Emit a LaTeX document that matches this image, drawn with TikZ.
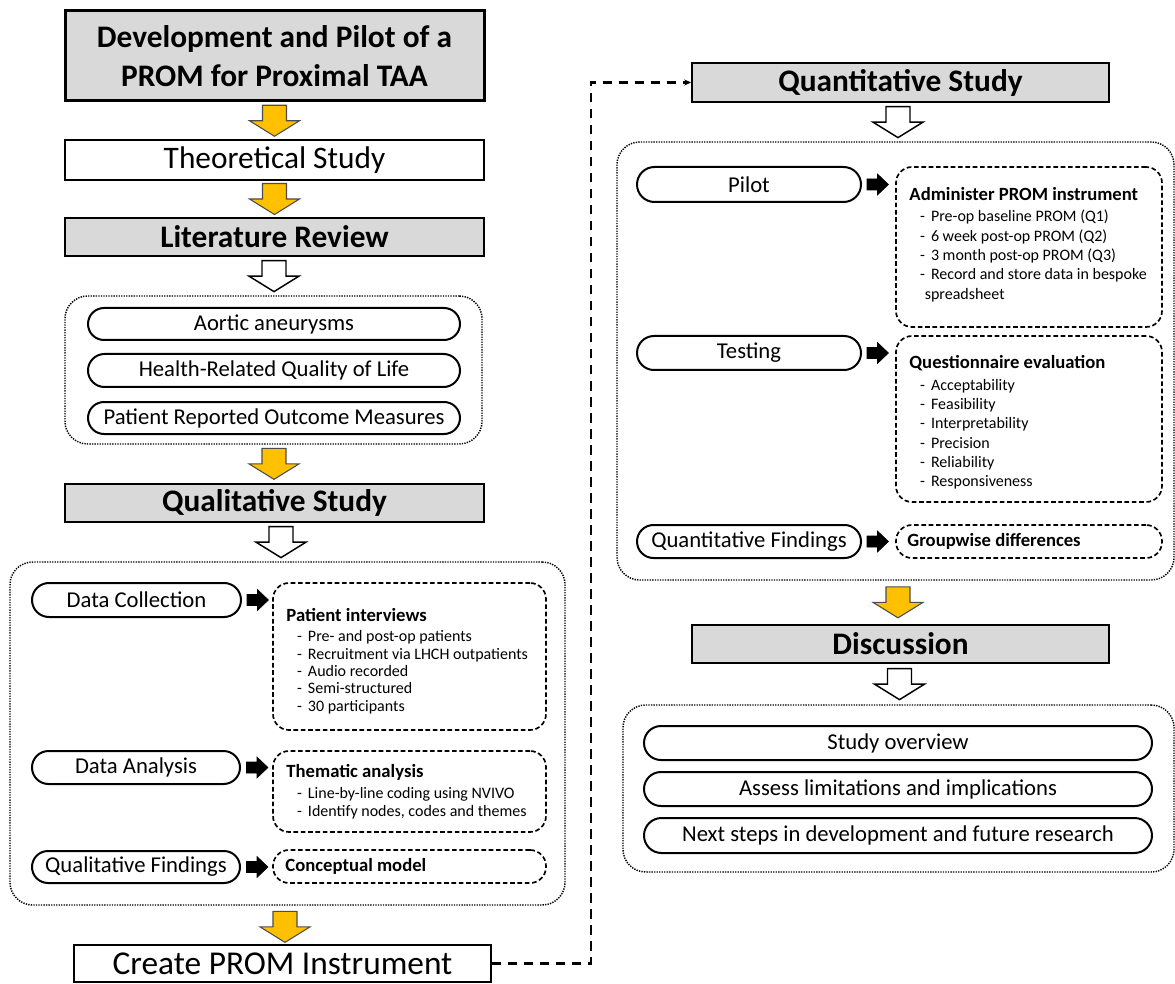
\documentclass[tikz,border=0pt]{standalone}
\usepackage{fontspec}
\setmainfont{Carlito}
\usetikzlibrary{shapes.misc,arrows.meta,calc}
\definecolor{panelgray}{HTML}{D9D9D9}
\definecolor{amber}{HTML}{FFC000}
% header line and bullet line of the detail boxes
\newcommand{\hd}[1]{{\fontsize{14}{16}\selectfont\bfseries #1}}
\newcommand{\li}[1]{\hspace*{8pt}-\hspace*{4.5pt}#1}

\tikzset{
  % place a node by its left/top/right/bottom edges (in px units)
  frame at/.style args={#1,#2,#3,#4}{at={({(#1+#3)/2},{(#2+#4)/2})},
     minimum width={0.75pt*(#3-#1)}, minimum height={0.75pt*(#4-#2)}},
  headbox/.style={draw, fill=panelgray, line width=1.5pt, inner sep=0pt,
     align=center, font=\fontsize{23.5}{29}\selectfont\bfseries},
  titlebox/.style={headbox, line width=2.25pt},
  plainbox/.style={draw, fill=white, line width=1.5pt, inner sep=0pt,
     font=\fontsize{23.5}{29}\selectfont},
  pillbox/.style={draw, rounded rectangle, line width=1.5pt, inner sep=0pt,
     font=\fontsize{17}{20}\selectfont},
  detailbox/.style={draw, rounded corners=12pt, line width=1.25pt,
     dash pattern=on 3.5pt off 2pt, inner sep=0pt},
  groupbox/.style={draw, rounded corners=17pt, line width=1.1pt,
     dash pattern=on 1pt off 0.9pt, inner sep=0pt},
  notetext/.style={inner sep=0pt, anchor=west},
  flowlink/.style={line width=1.8pt, dash pattern=on 7pt off 5pt,
     -{Stealth[length=5pt,width=4.5pt]}},
  gold arrow/.style={fill=amber, draw=black!70, line width=0.8pt},
  hollow arrow/.style={fill=white, draw=black, line width=1.1pt},
  pointer/.style={fill=black, draw=black, line width=0.4pt},
  blockdown/.pic={\path[#1] (-12,-15.5) -- (12,-15.5) -- (12,0) -- (25,0)
     -- (0,15.5) -- (-25,0) -- (-12,0) -- cycle;},
  blockright/.pic={\path[#1] (-10.5,-5.5) -- (0,-5.5) -- (0,-10.5) -- (11,0)
     -- (0,10.5) -- (0,5.5) -- (-10.5,5.5) -- cycle;},
}

\begin{document}
\begin{tikzpicture}[x=0.75pt, y=-0.75pt]
\useasboundingbox (0,0) rectangle (1175,984);

% ---------------- left column ----------------
\node[titlebox, frame at={65,11,484,101}] (title)
  {Development and Pilot of a\\PROM for Proximal TAA};
\node[plainbox, frame at={65,140,484,180}] (theory) {Theoretical Study};
\node[headbox, frame at={65,218,484,256}] (litrev) {Literature Review};

\node[groupbox, frame at={65,296,482,444}] (litgroup) {};
\node[pillbox, frame at={88,308,460,340}] (lit1) {Aortic aneurysms};
\node[pillbox, frame at={88,354,460,387}] (lit2) {Health-Related Quality of Life};
\node[pillbox, frame at={88,402,460,434}] (lit3) {Patient Reported Outcome Measures};

\node[headbox, frame at={65,484,484,522}] (qual) {Qualitative Study};

\node[groupbox, frame at={10,562,565,905}] (qualgroup) {};
\node[pillbox, frame at={32,583,241,617}] (collect) {Data Collection};
\node[detailbox, frame at={273,583,546,730}] (interviews) {};
\node[notetext, font=\fontsize{12}{13}\selectfont] (interviewstext)
  at ($(interviews.west)+(14,6)$) {\begin{tabular}{@{}l@{}}
  \hd{Patient interviews}\\[2pt]
  \li{Pre- and post-op patients}\\
  \li{Recruitment via LHCH outpatients}\\
  \li{Audio recorded}\\
  \li{Semi-structured}\\
  \li{30 participants}
  \end{tabular}};

\node[pillbox, frame at={32,751,240,784}] (analysis) {Data Analysis};
\node[detailbox, frame at={273,751,546,832}] (thematic) {};
\node[notetext, font=\fontsize{12}{14}\selectfont] (thematictext)
  at ($(thematic.west)+(14,2)$) {\begin{tabular}{@{}l@{}}
  \hd{Thematic analysis}\\[1.5pt]
  \li{Line-by-line coding using NVIVO}\\
  \li{Identify nodes, codes and themes}
  \end{tabular}};

\node[pillbox, frame at={32,851,240,883}] (findings) {Qualitative Findings};
\node[detailbox, frame at={273,850,546,883}] (concept) {};
\node[notetext] (concepttext) at ($(concept.west)+(13,0)$) {\hd{Conceptual model}};

\node[plainbox, font=\fontsize{25}{30}\selectfont, frame at={74,945,491,982}] (create)
  {Create PROM Instrument};

% ---------------- right column ----------------
\node[headbox, frame at={692,63,1109,102}] (quant) {Quantitative Study};

\node[groupbox, frame at={617,142,1174,580}] (quantgroup) {};
\node[pillbox, frame at={637,167,861,202}] (pilot) {Pilot};
\node[detailbox, frame at={896,167,1162,327}] (administer) {};
\node[notetext, font=\fontsize{12}{14.5}\selectfont] (administertext)
  at ($(administer.west)+(14,-1)$) {\begin{tabular}{@{}l@{}}
  \hd{Administer PROM instrument}\\[1.5pt]
  \li{Pre-op baseline PROM (Q1)}\\
  \li{6 week post-op PROM (Q2)}\\
  \li{3 month post-op PROM (Q3)}\\
  \li{Record and store data in bespoke}\\
  \hspace*{11.5pt}spreadsheet
  \end{tabular}};

\node[pillbox, frame at={637,336,861,370}] (testing) {Testing};
\node[detailbox, frame at={896,336,1162,502}] (evaluation) {};
\node[notetext, font=\fontsize{12}{14.5}\selectfont] (evaluationtext)
  at ($(evaluation.west)+(14,5)$) {\begin{tabular}{@{}l@{}}
  \hd{Questionnaire evaluation}\\[1.5pt]
  \li{Acceptability}\\
  \li{Feasibility}\\
  \li{Interpretability}\\
  \li{Precision}\\
  \li{Reliability}\\
  \li{Responsiveness}
  \end{tabular}};

\node[pillbox, frame at={637,525,861,558}] (qfind) {Quantitative Findings};
\node[detailbox, frame at={896,525,1162,558}] (groupwise) {};
\node[notetext] (groupwisetext) at ($(groupwise.west)+(12,0)$) {\hd{Groupwise differences}};

\node[headbox, frame at={692,625,1109,663}] (discussion) {Discussion};

\node[groupbox, frame at={623,705,1174,872}] (discgroup) {};
\node[pillbox, frame at={644,726,1152,760}] (disc1) {Study overview};
\node[pillbox, frame at={644,772,1152,806}] (disc2) {Assess limitations and implications};
\node[pillbox, frame at={644,818,1152,853}] (disc3) {Next steps in development and future research};

% ---------------- block arrows ----------------
\pic at ($(title.south)!0.5!(theory.north)$) {blockdown=gold arrow};
\pic at ($(theory.south)!0.5!(litrev.north)$) {blockdown=gold arrow};
\pic at ($(litrev.south)!0.5!(litgroup.north)$) {blockdown=hollow arrow};
\pic at ($(litgroup.south)!0.5!(qual.north)$) {blockdown=gold arrow};
\pic at ($(qual.south)!0.5!(qualgroup.north)$) {blockdown=hollow arrow};
\pic at ($(qualgroup.south)!0.5!(create.north)+(0,2)$) {blockdown=gold arrow};

\pic at ($(quant.south)!0.5!(quantgroup.north)$) {blockdown=hollow arrow};
\pic at ($(quantgroup.south)!0.5!(discussion.north)$) {blockdown=gold arrow};
\pic at ($(discussion.south)!0.5!(discgroup.north)$) {blockdown=hollow arrow};

\pic at ($(collect.east)+(15.5,0)$) {blockright=pointer};
\pic at ($(analysis.east)+(16,0)$) {blockright=pointer};
\pic at ($(findings.east)+(16,0)$) {blockright=pointer};
\pic at ($(pilot.east)+(15.5,0)$) {blockright=pointer};
\pic at ($(testing.east)+(15.5,0)$) {blockright=pointer};
\pic at ($(qfind.east)+(15.5,0)$) {blockright=pointer};

% ---------------- link between the two columns ----------------
\draw[flowlink] (create.east) -| ($(quant.west)+(-100,0)$) -- (quant.west);

\end{tikzpicture}
\end{document}
